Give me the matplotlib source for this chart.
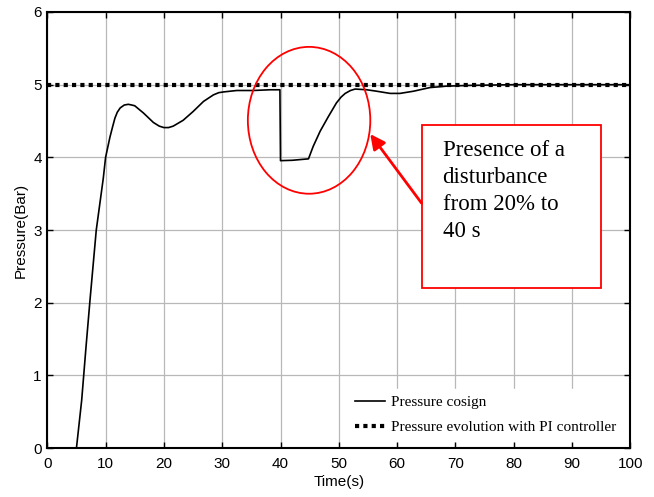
import matplotlib
matplotlib.use('Agg')
import matplotlib.pyplot as plt
from matplotlib.patches import Ellipse, Rectangle

# pressure curve (time in s, pressure in bar)
time_s = [0, 5.0, 5.9, 6.65, 7.33, 8.4, 9.6, 10.0, 10.75, 11.2, 11.6, 12.0,
          12.5, 13.2, 13.9, 14.5, 15.0, 16.5, 18.2, 19.2, 20.0, 20.8, 21.6,
          23.3, 25.0, 26.8, 28.5, 29.4, 30.2, 32.5, 35.3, 38.2, 39.9, 40.0,
          42.0, 44.8, 45.6, 46.8, 48.2, 49.6, 50.4, 51.1, 52.0, 52.8, 54.8,
          56.5, 58.8, 60.5, 62.8, 65.6, 68.5, 72.5, 80.0, 90.0, 100.0]
pressure = [0, 0, 0.66, 1.40, 2.04, 3.0, 3.71, 4.0, 4.28, 4.42, 4.54, 4.62,
            4.68, 4.72, 4.73, 4.72, 4.71, 4.61, 4.48, 4.43, 4.41, 4.41, 4.43,
            4.51, 4.63, 4.77, 4.86, 4.89, 4.90, 4.92, 4.92, 4.93, 4.93, 3.955,
            3.96, 3.98, 4.15, 4.36, 4.56, 4.75, 4.83, 4.88, 4.92, 4.94, 4.93,
            4.91, 4.88, 4.88, 4.91, 4.96, 4.98, 4.99, 5.0, 5.0, 5.0]

setpoint_t = [0, 100]
setpoint_p = [5.0, 5.0]

x_ticks = list(range(0, 101, 10))
y_ticks = list(range(0, 7))

label_solid = 'Pressure cosign'
label_dotted = 'Pressure evolution with PI controller'
note = 'Presence of a\ndisturbance\nfrom 20% to\n40 s'


def main():
	fig = plt.figure(figsize=(6.54, 4.97), dpi=100)
	ax = fig.add_axes([0.0723, 0.0982, 0.8915, 0.8777])

	ax.plot(time_s, pressure, color='black', lw=1.2, label=label_solid, zorder=3)
	ax.plot(setpoint_t, setpoint_p, color='black', lw=3.0,
			dashes=(1.0, 1.0), dash_capstyle='butt', label=label_dotted, zorder=4)

	ax.set_xlim(0, 100)
	ax.set_ylim(0, 6)
	ax.set_xticks(x_ticks)
	ax.set_yticks(y_ticks)
	ax.grid(True, color='#b8b8b8', lw=0.9)
	ax.set_axisbelow(True)
	ax.tick_params(direction='in', length=4, width=1, top=True, right=True,
				   labelsize=11)
	ax.tick_params(axis='x', pad=6)
	ax.tick_params(axis='y', pad=4)
	for lbl in ax.get_xticklabels() + ax.get_yticklabels():
		lbl.set_family('Liberation Sans')
	for sp in ax.spines.values():
		sp.set_linewidth(1.5)

	ax.set_xlabel('Time(s)', family='Liberation Sans', fontsize=11, labelpad=3)
	ax.set_ylabel('Pressure(Bar)', family='Liberation Sans', fontsize=11, labelpad=4)

	# annotations
	ax.add_patch(Ellipse((44.9, 4.51), 21.0, 2.02, fill=False, ec='red', lw=1.3, zorder=5))
	ax.add_patch(Rectangle((64.2, 2.21), 30.8, 2.24, fc='white', ec='red', lw=1.3, zorder=5))
	ax.text(67.8, 4.24, note, family='Liberation Serif', fontsize=16.5,
			va='top', ha='left', linespacing=1.38, zorder=6)
	ax.annotate('', xy=(55.4, 4.32), xytext=(64.2, 3.37),
				arrowprops=dict(arrowstyle='-|>', color='red', lw=2,
								mutation_scale=22, shrinkA=0, shrinkB=0), zorder=6)

	leg = ax.legend(loc='lower right', prop={'family': 'Liberation Serif', 'size': 11},
					handlelength=2.0, handletextpad=0.4, labelspacing=0.75,
					borderaxespad=0.5, fancybox=False, framealpha=1, edgecolor='white')
	leg.set_zorder(7)

	fig.savefig('out.png', dpi=100)


if __name__ == '__main__':
	main()
